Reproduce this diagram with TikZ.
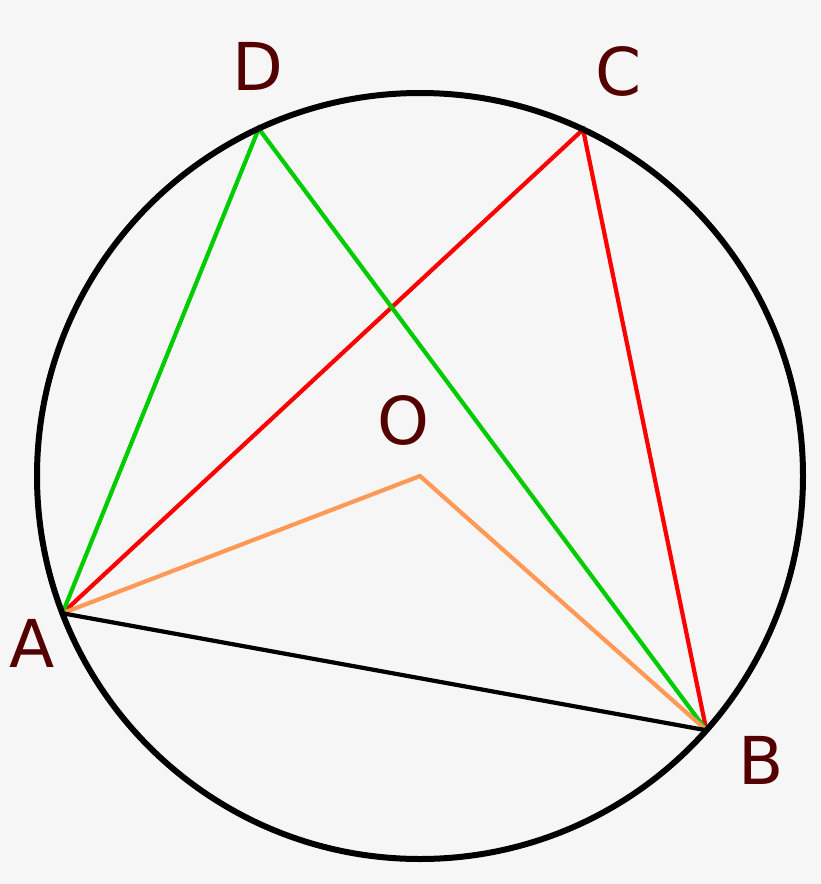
\documentclass[tikz,border=0pt]{standalone}
\usepackage{fontspec}
\setmainfont{DejaVu Sans}
\usetikzlibrary{calc}
\begin{document}
\begin{tikzpicture}[x=1pt,y=-1pt,
  lbl/.style={text=labelc,font=\fontsize{66}{66}\selectfont,inner sep=0pt,anchor=center},
  seg/.style={line width=4.2pt,line join=miter,line cap=round}]
\definecolor{bgc}{HTML}{F6F6F6}
\definecolor{labelc}{HTML}{550000}
\definecolor{greenc}{HTML}{00CC00}
\definecolor{redc}{HTML}{FF0000}
\definecolor{orangec}{HTML}{FF9955}
\fill[bgc] (0,0) rectangle (820,884);
\useasboundingbox (0,0) rectangle (820,884);
\coordinate (O) at (420,476);
\coordinate (A) at ($(O)+(159:383)$);
\coordinate (B) at ($(O)+(41.6:383)$);
\coordinate (C) at ($(O)+(-64.8:383)$);
\coordinate (D) at ($(O)+(-114.9:383)$);
\draw[seg,redc] (A) -- (C) -- (B);
\draw[seg,greenc] (A) -- (D) -- (B);
\draw[seg,orangec] (A) -- (O) -- (B);
\draw[seg,black] (A) -- (B);
\draw[line width=6pt,black] (O) circle[radius=383];
\node[lbl] (lA) at (32,643) {A};
\node[lbl] (lB) at (761,760) {B};
\node[lbl] (lC) at (619,71) {C};
\node[lbl] (lD) at (258,66) {D};
\node[lbl] (lO) at (403,420) {O};
\end{tikzpicture}
\end{document}
